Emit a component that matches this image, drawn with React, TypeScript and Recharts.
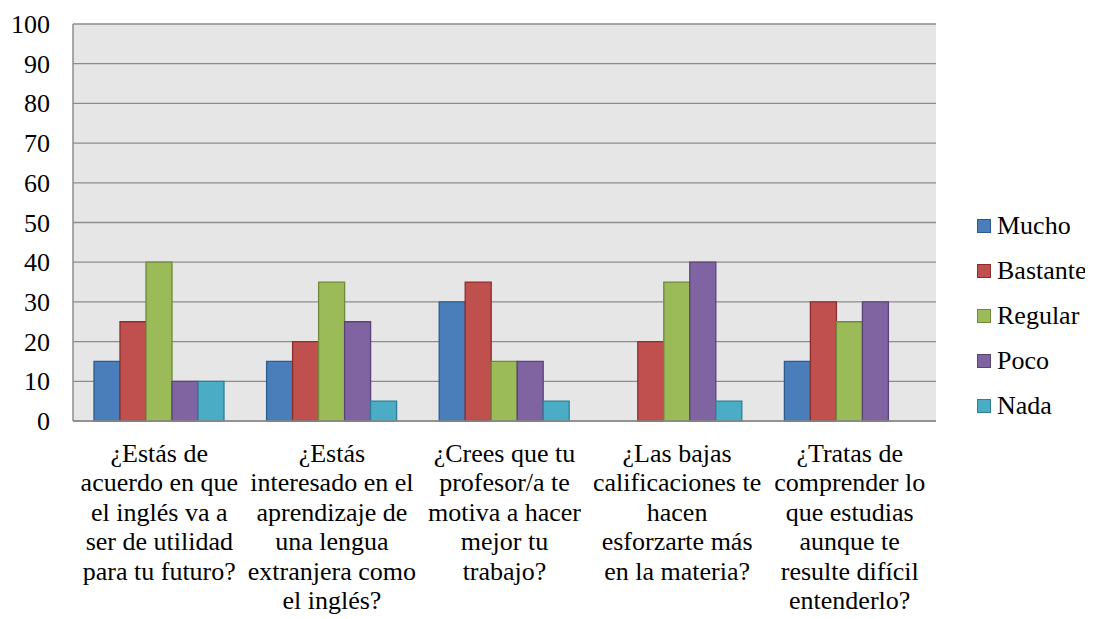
import React from 'react';
import { BarChart, Bar, XAxis, YAxis, CartesianGrid, Legend } from 'recharts';

const categories = [
  '¿Estás de\nacuerdo en que\nel inglés va a\nser de utilidad\npara tu futuro?',
  '¿Estás\ninteresado en el\naprendizaje de\nuna lengua\nextranjera como\nel inglés?',
  '¿Crees que tu\nprofesor/a te\nmotiva a hacer\nmejor tu\ntrabajo?',
  '¿Las bajas\ncalificaciones te\nhacen\nesforzarte más\nen la materia?',
  '¿Tratas de\ncomprender lo\nque estudias\naunque te\nresulte difícil\nentenderlo?',
];
const mucho = [15, 15, 30, 0, 15];
const bastante = [25, 20, 35, 20, 30];
const regular = [40, 35, 15, 35, 25];
const poco = [10, 25, 15, 40, 30];
const nada = [10, 5, 5, 5, 0];
const yTicks = [0, 10, 20, 30, 40, 50, 60, 70, 80, 90, 100];

const series = [
  { key: 'Mucho', fill: '#4A7EBB', stroke: '#2C5C8F' },
  { key: 'Bastante', fill: '#C0504D', stroke: '#8C2F2C' },
  { key: 'Regular', fill: '#9BBB59', stroke: '#6E8A3A' },
  { key: 'Poco', fill: '#8064A2', stroke: '#5A4377' },
  { key: 'Nada', fill: '#4BACC6', stroke: '#2E7F96' },
];

const data = categories.map((c, i) => ({
  category: c,
  Mucho: mucho[i],
  Bastante: bastante[i],
  Regular: regular[i],
  Poco: poco[i],
  Nada: nada[i],
}));

const FONT = 'Liberation Serif';
const FS = 26;

const XTick = (props: any) => {
  const { x, y, payload } = props;
  const lines = String(payload.value).split('\n');
  return (
    <text x={x} y={y} textAnchor="middle" fontFamily={FONT} fontSize={FS} fill="#000">
      {lines.map((l, i) => (
        <tspan key={i} x={x} y={y + 40.5 + i * 29.5}>
          {l}
        </tspan>
      ))}
    </text>
  );
};

const YTick = (props: any) => {
  const { x, y, payload } = props;
  return (
    <text x={x} y={y} dy={9} textAnchor="end" fontFamily={FONT} fontSize={FS} fill="#000">
      {payload.value}
    </text>
  );
};

const LegendContent = () => (
  <div style={{ fontFamily: FONT, fontSize: FS, color: '#000', whiteSpace: 'nowrap' }}>
    {series.map((s) => (
      <div key={s.key} style={{ height: 45, display: 'flex', alignItems: 'center' }}>
        <div
          style={{
            width: 12,
            height: 12,
            background: s.fill,
            border: `1.5px solid ${s.stroke}`,
            marginRight: 6,
            flexShrink: 0,
          }}
        />
        <span>{s.key}</span>
      </div>
    ))}
  </div>
);

export default function App() {
  return (
    <div style={{ width: 1085, height: 611 }}>
      <BarChart
        width={1085}
        height={611}
        data={data}
        margin={{ top: 16, right: 157, left: 15, bottom: 8 }}
        barCategoryGap={21}
        barGap={0}
      >
        <CartesianGrid
          vertical={false}
          stroke="#8C8C8C"
          strokeWidth={1.3}
          fill="#E6E6E6"
          fillOpacity={1}
        />
        <XAxis
          dataKey="category"
          interval={0}
          height={190}
          tickLine={false}
          axisLine={{ stroke: '#8C8C8C', strokeWidth: 1.5 }}
          tick={<XTick />}
          tickSize={0}
          tickMargin={0}
        />
        <YAxis
          width={50}
          domain={[0, 100]}
          ticks={yTicks}
          interval={0}
          tickLine={false}
          tickSize={0}
          tickMargin={23}
          axisLine={{ stroke: '#8C8C8C', strokeWidth: 1.5 }}
          tick={<YTick />}
        />
        <Legend
          layout="vertical"
          align="center"
          verticalAlign="middle"
          content={<LegendContent />}
          wrapperStyle={{ left: 969, top: 195, width: 124 }}
        />
        {series.map((s) => (
          <Bar
            key={s.key}
            dataKey={s.key}
            fill={s.fill}
            stroke={s.stroke}
            strokeWidth={1.3}
            isAnimationActive={false}
          />
        ))}
      </BarChart>
    </div>
  );
}
